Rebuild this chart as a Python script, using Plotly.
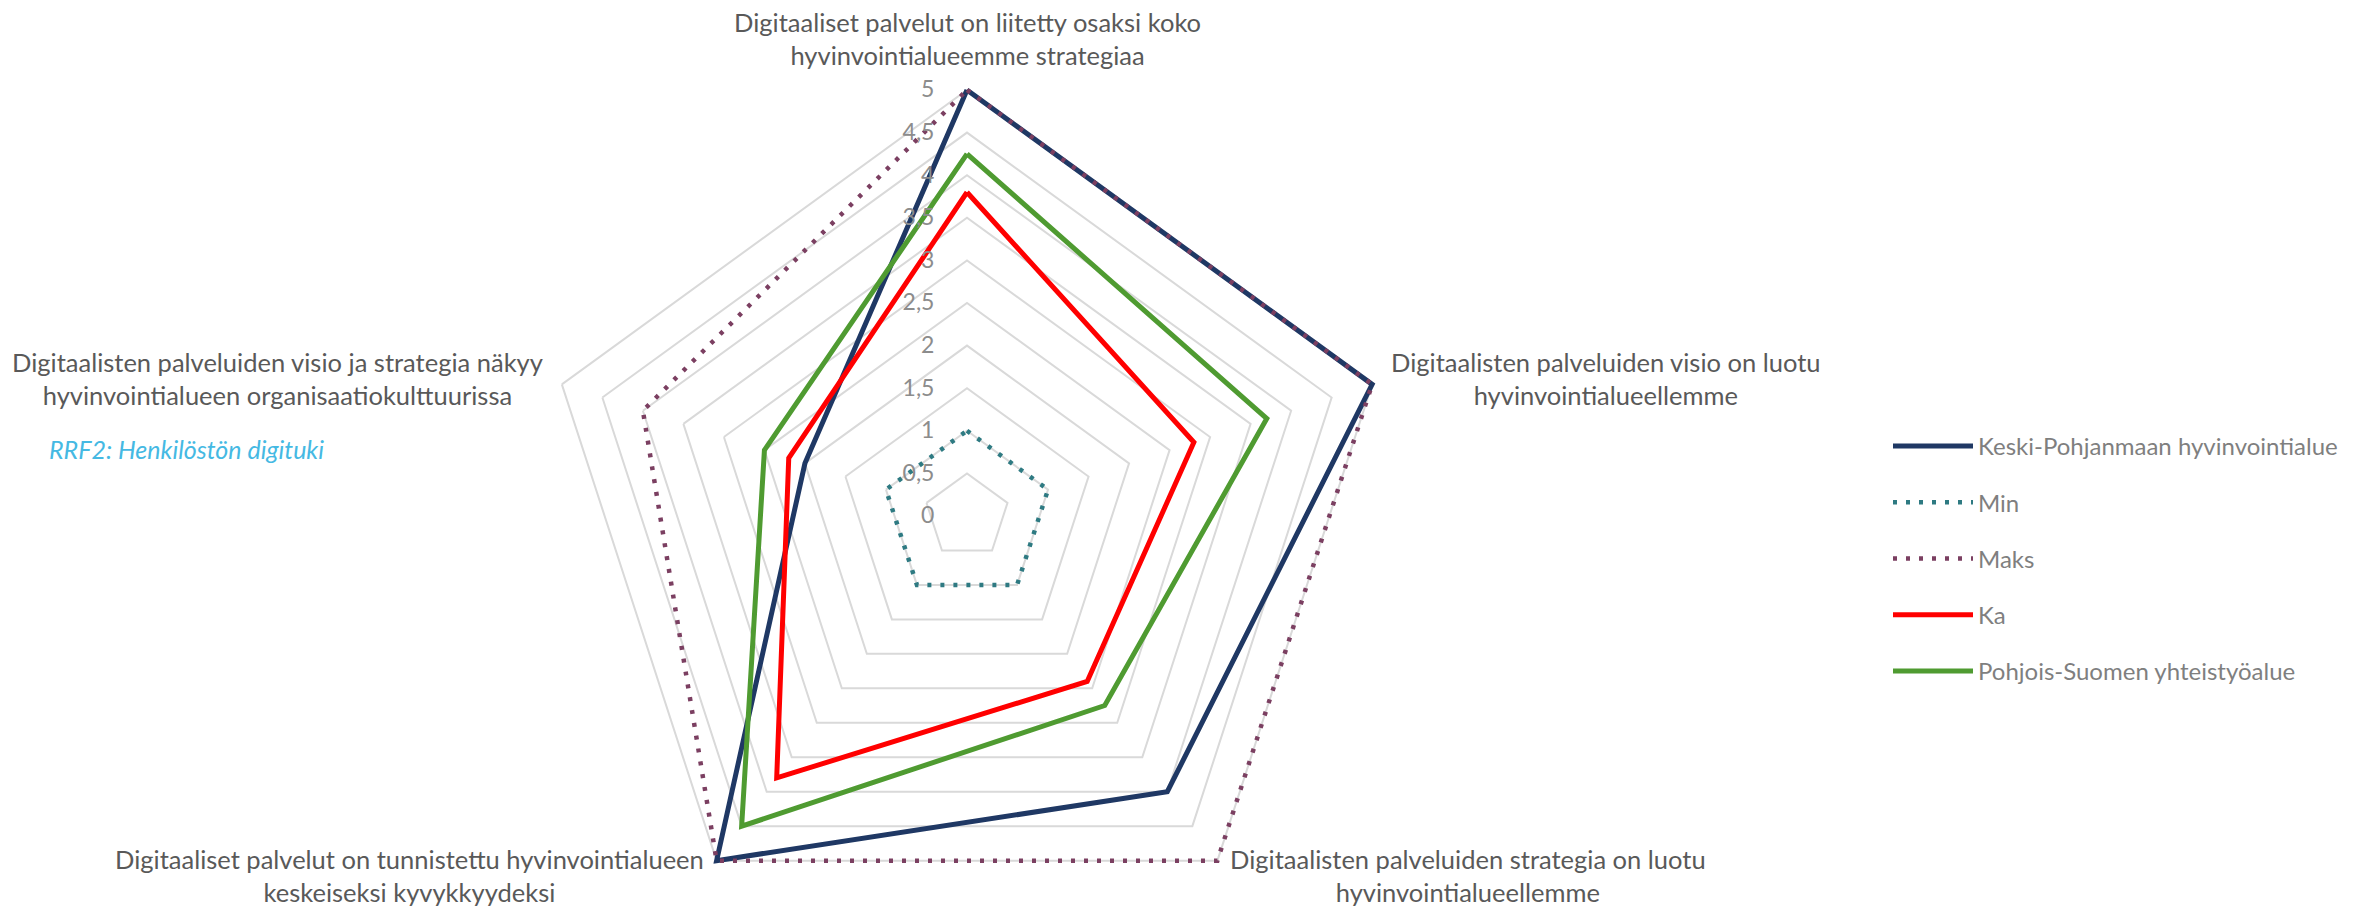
import math
import plotly.graph_objects as go

# ---------------- data ----------------
categories = [
    "Digitaaliset palvelut on liitetty osaksi koko<br>hyvinvointialueemme strategiaa",
    "Digitaalisten palveluiden visio on luotu<br>hyvinvointialueellemme",
    "Digitaalisten palveluiden strategia on luotu<br>hyvinvointialueellemme",
    "Digitaaliset palvelut on tunnistettu hyvinvointialueen<br>keskeiseksi kyvykkyydeksi",
    "Digitaalisten palveluiden visio ja strategia näkyy<br>hyvinvointialueen organisaatiokulttuurissa",
]
series_names = [
    "Keski-Pohjanmaan hyvinvointialue",
    "Min",
    "Maks",
    "Ka",
    "Pohjois-Suomen yhteistyöalue",
]
keski_pohjanmaa = [5, 5, 4, 5, 2]
min_values = [1, 1, 1, 1, 1]
maks_values = [5, 5, 5, 5, 4]
ka_values = [3.8, 2.8, 2.4, 3.8, 2.2]
pohjois_suomi = [4.25, 3.7, 2.75, 4.5, 2.5]
radial_ticks = [0, 0.5, 1, 1.5, 2, 2.5, 3, 3.5, 4, 4.5, 5]
subtitle = "RRF2: Henkilöstön digituki"

# ---------------- layout constants ----------------
W, H = 2369, 960
CX, CY = 967, 516
R5 = 426              # pixel radius of value 5
RMAX = 5.06           # a little headroom so outer lines are not clipped
RD = R5 * RMAX / 5    # pixel radius of the polar domain

styles = [
    dict(color="#1F3864", width=5, dash="solid"),
    dict(color="#2E7A82", width=4.5, dash="4px,9px"),
    dict(color="#7B3F61", width=4.5, dash="4px,9px"),
    dict(color="#FF0000", width=5, dash="solid"),
    dict(color="#4F9B31", width=5, dash="solid"),
]
all_values = [keski_pohjanmaa, min_values, maks_values, ka_values, pohjois_suomi]

fig = go.Figure()
for name, vals, st in zip(series_names, all_values, styles):
    fig.add_trace(go.Scatterpolar(
        r=vals + vals[:1],
        theta=categories + categories[:1],
        mode="lines",
        name=name,
        legendgroup=name,
        line=st,
        cliponaxis=False,
        hoverinfo="skip",
    ))

# category labels as annotations around the pentagon
annotations = []
n = len(categories)
for i, cat in enumerate(categories):
    ang = math.radians(90 - 360 * i / n)
    c, s = math.cos(ang), math.sin(ang)
    px = CX + (R5 + 18) * c
    py = CY - (R5 + 18) * s
    if c > 0.1:
        xa = "left"
    elif c < -0.1:
        xa = "right"
    else:
        xa = "center"
    ya = "bottom" if s > 0.9 else "middle"
    annotations.append(dict(
        x=px / W, y=1 - py / H, xref="paper", yref="paper",
        text=cat, showarrow=False, xanchor=xa, yanchor=ya, align="center",
        font=dict(family="Lato", size=25.5, color="#595959"),
    ))

annotations.append(dict(
    x=47 / W, y=1 - 449 / H, xref="paper", yref="paper",
    text="<i>" + subtitle + "</i>", showarrow=False, xanchor="left", yanchor="middle",
    font=dict(family="Lato", size=25, color="#45B9E3"),
))

fig.update_layout(
    width=W, height=H,
    margin=dict(l=0, r=0, t=0, b=0),
    paper_bgcolor="white",
    plot_bgcolor="white",
    separators=", ",
    font=dict(family="Lato", size=22, color="#7F7F7F"),
    polar=dict(
        domain=dict(x=[(CX - RD) / W, (CX + RD) / W], y=[1 - (CY + RD) / H, 1 - (CY - RD) / H]),
        bgcolor="rgba(0,0,0,0)",
        gridshape="linear",
        radialaxis=dict(
            range=[0, RMAX],
            tickvals=radial_ticks,
            angle=90,
            side="counterclockwise",
            tickangle=90,
            showline=False,
            ticks="outside",
            ticklen=24,
            tickcolor="rgba(0,0,0,0)",
            gridcolor="#D9D9D9",
            gridwidth=1.5,
            tickfont=dict(family="Lato", size=23, color="#8C8C8C"),
        ),
        angularaxis=dict(
            rotation=90,
            direction="clockwise",
            showgrid=False,
            showline=False,
            ticks="",
            showticklabels=False,
        ),
    ),
    showlegend=True,
    legend=dict(
        x=1888 / W, y=1 - 424 / H, xanchor="left", yanchor="top",
        traceorder="grouped", tracegroupgap=22,
        itemwidth=80,
        font=dict(family="Lato", size=24, color="#7F7F7F"),
        bgcolor="rgba(0,0,0,0)",
    ),
    annotations=annotations,
)

post = (
    "document.documentElement.style.overflow='hidden';"
    "document.body.style.overflow='hidden';"
    "document.body.style.margin='0';"
)
fig.write_html("out.html", post_script=post)
